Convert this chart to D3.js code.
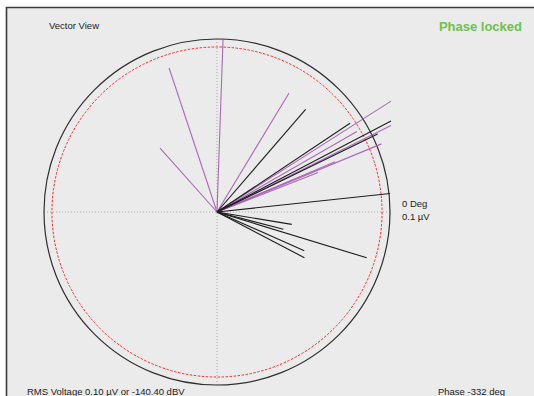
<!DOCTYPE html>
<html>
<head>
<meta charset="utf-8">
<script src="https://cdn.jsdelivr.net/npm/d3@7"></script>
<style>
  html, body { margin: 0; padding: 0; background: #fff; }
  svg { display: block; }
  text { font-family: "Liberation Sans", Arial, sans-serif; }
</style>
</head>
<body>
<svg id="chart" width="534" height="396"></svg>
<script>
// Vector readings: magnitude in µV, phase in degrees (0 = right, counter-clockwise)
const purpleMag   = [0.1006, 0.0877, 0.0495, 0.0804, 0.1193, 0.1123, 0.1029, 0.0933, 0.0742, 0.0627];
const purplePhase = [88.0, 108.4, 131.7, 58.8, 32.5, 26.4, 22.5, 29.9, 23.1, 21.3];
const blackMag    = [0.0784, 0.0924, 0.1135, 0.1032, 0.1006, 0.0438, 0.0396, 0.0552, 0.0570, 0.0905];
const blackPhase  = [49.2, 33.7, 27.6, 25.9, 6.1, -9.4, -14.6, -23.9, -27.6, -17.0];

const fullScale = 0.1;      // µV at the outer ring
const rmsVoltage = 0.0954;  // µV, shown as the dashed ring
const scaleLabels = ["0 Deg", "0.1 µV"];
const title = "Vector View";
const status = "Phase locked";
const footerLeft = "RMS Voltage 0.10 µV or -140.40 dBV";
const footerRight = "Phase -332 deg";

const svg = d3.select("#chart");
const W = 534, H = 396;
const cx = 217, cy = 212, R = 173;

// panel
svg.append("rect").attr("x", 6).attr("y", 7).attr("width", W - 6).attr("height", H - 7)
  .attr("fill", "#ebebeb");
svg.append("path").attr("d", `M6.5,${H} V7.5 H${W}`)
  .attr("fill", "none").attr("stroke", "#3a3a3a").attr("stroke-width", 1.6);

const rScale = d3.scaleLinear().domain([0, fullScale]).range([0, R]);
const angle = d3.scaleLinear().domain([0, 360]).range([0, 2 * Math.PI]);

const g = svg.append("g").attr("transform", `translate(${cx},${cy})`);

// crosshair
g.append("line").attr("x1", -R).attr("x2", R).attr("y1", 0).attr("y2", 0)
  .attr("stroke", "#a8a8a8").attr("stroke-width", 1).attr("stroke-dasharray", "1,2");
g.append("line").attr("y1", -R).attr("y2", R).attr("x1", 0).attr("x2", 0)
  .attr("stroke", "#a8a8a8").attr("stroke-width", 1).attr("stroke-dasharray", "1,2");

// outer ring (full scale)
g.append("circle").attr("r", rScale(fullScale))
  .attr("fill", "none").attr("stroke", "#2e2e2e").attr("stroke-width", 1.2);

// RMS ring
g.append("circle").attr("r", rScale(rmsVoltage))
  .attr("fill", "none").attr("stroke", "#ff2a2a").attr("stroke-width", 1)
  .attr("stroke-dasharray", "2.5,1.5");

function endpoint(m, p) {
  const a = angle(p);
  return [rScale(m) * Math.cos(a), -rScale(m) * Math.sin(a)];
}

const purple = purpleMag.map((m, i) => endpoint(m, purplePhase[i]));
const black = blackMag.map((m, i) => endpoint(m, blackPhase[i]));

g.selectAll("line.p").data(purple).enter().append("line").attr("class", "p")
  .attr("x1", 0).attr("y1", 0).attr("x2", d => d[0]).attr("y2", d => d[1])
  .attr("stroke", "#a55bb5").attr("stroke-width", 1.1).attr("stroke-opacity", 0.9);

g.selectAll("line.b").data(black).enter().append("line").attr("class", "b")
  .attr("x1", 0).attr("y1", 0).attr("x2", d => d[0]).attr("y2", d => d[1])
  .attr("stroke", "#1e1e1e").attr("stroke-width", 1.1);

// scale labels
svg.append("text").attr("x", 402).attr("y", 207).attr("font-size", 9.5).attr("fill", "#222")
  .attr("font-family", "DejaVu Sans, sans-serif").text(scaleLabels[0]);
svg.append("text").attr("x", 402).attr("y", 220).attr("font-size", 9.5).attr("fill", "#222")
  .attr("font-family", "DejaVu Sans, sans-serif").text(scaleLabels[1]);

svg.append("text").attr("x", 49).attr("y", 29).attr("font-size", 9.5).attr("fill", "#222")
  .text(title);
svg.append("text").attr("x", 522).attr("y", 31).attr("font-size", 13).attr("font-weight", "bold")
  .attr("text-anchor", "end").attr("fill", "#6cc24a").text(status);

svg.append("text").attr("x", 27).attr("y", 395).attr("font-size", 9.5).attr("fill", "#222")
  .attr("font-family", "DejaVu Sans, sans-serif").text(footerLeft);
svg.append("text").attr("x", 505).attr("y", 395).attr("font-size", 9.5).attr("fill", "#222")
  .attr("text-anchor", "end")
  .attr("font-family", "DejaVu Sans, sans-serif").text(footerRight);
</script>
</body>
</html>
